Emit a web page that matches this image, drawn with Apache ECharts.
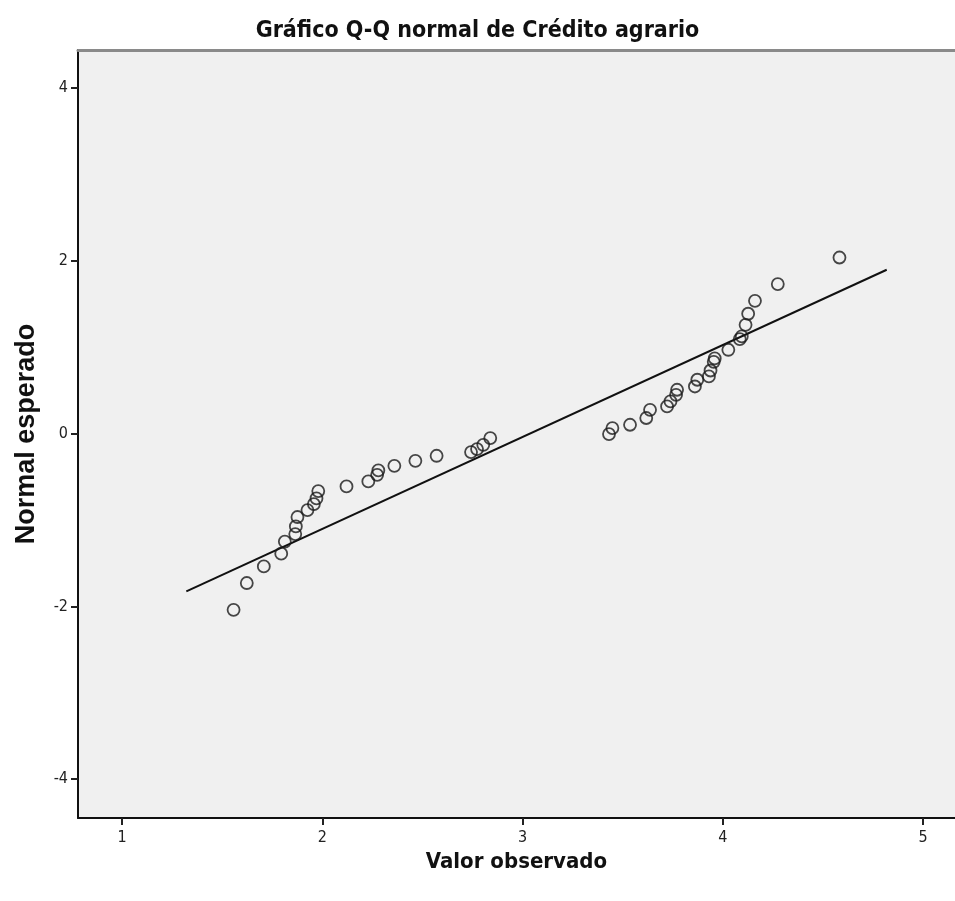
<!DOCTYPE html>
<html>
<head>
<meta charset="utf-8">
<script src="https://cdn.jsdelivr.net/npm/echarts@6/dist/echarts.min.js"></script>
<style>
html,body{margin:0;padding:0;background:#fff;}
#chart{width:955px;height:901px;}
</style>
</head>
<body>
<div id="chart"></div>
<script>
const titleText = "Gráfico Q-Q normal de Crédito agrario";
const xAxisName = "Valor observado";
const yAxisName = "Normal esperado";
const xTicks = [1, 2, 3, 4, 5];
const yTicks = [-4, -2, 0, 2, 4];
const observed = [1.557, 1.623, 1.708, 1.795, 1.813, 1.865, 1.868, 1.876, 1.926, 1.958, 1.971, 1.980, 2.121,
  2.230, 2.274, 2.280, 2.360, 2.465, 2.571, 2.743, 2.773, 2.804, 2.839,
  3.432, 3.449, 3.537, 3.618, 3.637, 3.722, 3.739, 3.767, 3.772, 3.861, 3.873,
  3.931, 3.939, 3.955, 3.960, 4.028, 4.085, 4.095, 4.114, 4.127, 4.161, 4.275, 4.583];
const expected = [-2.04, -1.73, -1.538, -1.39, -1.25, -1.163, -1.075, -0.966, -0.886, -0.816, -0.751, -0.666, -0.612,
  -0.554, -0.477, -0.427, -0.373, -0.315, -0.257, -0.214, -0.179, -0.13, -0.052,
  -0.006, 0.064, 0.102, 0.18, 0.275, 0.314, 0.372, 0.449, 0.507, 0.545, 0.623,
  0.661, 0.73, 0.83, 0.87, 0.97, 1.094, 1.124, 1.259, 1.387, 1.537, 1.73, 2.038];
const refLineX = [1.321, 4.819];
const refLineY = [-1.827, 1.896];

const narrow = "'Liberation Sans Narrow', 'DejaVu Sans Condensed', 'Arial Narrow', sans-serif";
const chart = echarts.init(document.getElementById('chart'), null, {renderer: 'canvas'});
chart.setOption({
  animation: false,
  backgroundColor: '#ffffff',
  title: {
    text: titleText, left: 'center', top: 15,
    textStyle: {fontFamily: narrow, fontWeight: 'bold', fontSize: 23, color: '#111'}
  },
  grid: {left: 78, right: 0, top: 50, bottom: 83, show: true, backgroundColor: '#f0f0f0', borderWidth: 0},
  xAxis: [{
    type: 'value', min: 0.78, max: 5.16, position: 'bottom',
    name: xAxisName, nameLocation: 'middle', nameGap: 33,
    nameTextStyle: {fontFamily: narrow, fontWeight: 'bold', fontSize: 22, color: '#111', verticalAlign: 'top'},
    axisLine: {show: true, onZero: false, lineStyle: {color: '#111', width: 2}},
    axisTick: {show: true, length: 7, customValues: xTicks, lineStyle: {color: '#222', width: 2}},
    axisLabel: {customValues: xTicks, margin: 12, fontFamily: narrow, fontSize: 16, color: '#222'},
    splitLine: {show: false}
  }, {
    type: 'value', min: 0.78, max: 5.16, position: 'top',
    axisLine: {show: true, onZero: false, lineStyle: {color: '#8a8a8a', width: 3}},
    axisTick: {show: false}, axisLabel: {show: false}, splitLine: {show: false}
  }],
  yAxis: {
    type: 'value', min: -4.45, max: 4.44,
    name: yAxisName, nameLocation: 'middle', nameGap: 38, nameRotate: 90,
    nameTextStyle: {fontFamily: "'Liberation Sans', Arial, sans-serif", fontWeight: 'bold', fontSize: 27, color: '#111'},
    axisLine: {show: true, onZero: false, lineStyle: {color: '#111', width: 2}},
    axisTick: {show: true, length: 7, customValues: yTicks, lineStyle: {color: '#222', width: 2}},
    axisLabel: {customValues: yTicks, margin: 10, fontFamily: narrow, fontSize: 16, color: '#222'},
    splitLine: {show: false}
  },
  series: [{
    type: 'line',
    data: refLineX.map((x, i) => [x, refLineY[i]]),
    showSymbol: false, symbol: 'none',
    lineStyle: {color: '#111', width: 2},
    z: 2
  }, {
    type: 'scatter',
    data: observed.map((x, i) => [x, expected[i]]),
    symbol: 'circle', symbolSize: 12,
    itemStyle: {color: 'rgba(0,0,0,0)', borderColor: '#1a1a1a', borderWidth: 1.8},
    z: 3
  }]
});
</script>
</body>
</html>
